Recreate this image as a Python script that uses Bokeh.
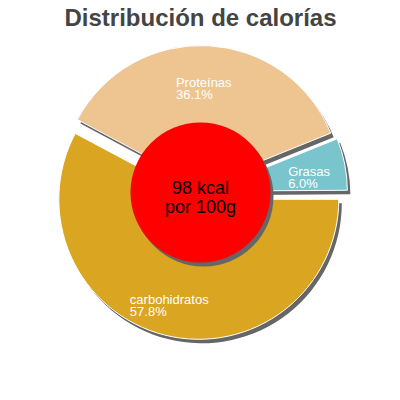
import numpy as np
from bokeh.plotting import figure
from bokeh.models import Range1d
from bokeh.core.properties import value
from bokeh.embed import file_html
from bokeh.resources import INLINE

title = "Distribución de calorías"
categories = ["carbohidratos", "Proteínas", "Grasas"]
percents = [57.8, 36.1, 6.0]
colors = ["#DAA520", "#EEC591", "#7AC5CD"]
center_lines = ["98 kcal", "por 100g"]

FONT = value("Liberation Sans")
W = H = 384
cx, cy = 200, 192
R = 140
explode = 7
hole = 70
shadow_dx, shadow_dy = 3, -4
label_r = 110
label_fs = 13

p = figure(width=W, height=H, output_backend="svg", toolbar_location=None,
           x_range=Range1d(0, W), y_range=Range1d(0, H), min_border=0)
p.axis.visible = False
p.grid.visible = False
p.outline_line_color = None
p.background_fill_color = "white"

fr = np.array(percents) / 100.0
ends = -2 * np.pi * np.cumsum(fr)
starts = np.concatenate([[0.0], ends[:-1]])
mids = (starts + ends) / 2
xs = cx + explode * np.cos(mids)
ys = cy + explode * np.sin(mids)

# shadows
p.wedge(x=xs + shadow_dx, y=ys + shadow_dy, radius=R, start_angle=ends, end_angle=starts,
        fill_color="#666666", line_color=None)
# slices
p.wedge(x=xs, y=ys, radius=R, start_angle=ends, end_angle=starts,
        fill_color=colors, line_color="white", line_width=1)

# center disk
p.scatter(x=[cx + shadow_dx], y=[cy + shadow_dy], size=2 * hole, fill_color="#666666", line_color=None)
p.scatter(x=[cx], y=[cy], size=2 * hole, fill_color="#FF0000", line_color=None)
p.text(x=[cx, cx], y=[cy + 5, cy - 14], text=center_lines, text_font=FONT,
       text_font_size="18px", text_align="center", text_baseline="alphabetic", text_color="black")

# labels
for cat, pc, m in zip(categories, percents, mids):
    lx = cx + label_r * np.cos(m)
    ly = cy + label_r * np.sin(m)
    half = 0.5 * 0.52 * label_fs * max(len(cat), 5)
    p.text(x=[lx - half, lx - half], y=[ly, ly - 12], text=[cat, f"{pc:.1f}%"], text_font=FONT,
           text_font_size=f"{label_fs}px", text_align="left", text_baseline="alphabetic",
           text_color="white")

# title
p.text(x=[cx], y=[H - 17], text=[title], text_font=FONT, text_font_size="24px",
       text_font_style="bold", text_align="center", text_baseline="alphabetic", text_color="#444444")

open("out.html", "w").write(file_html(p, INLINE))
